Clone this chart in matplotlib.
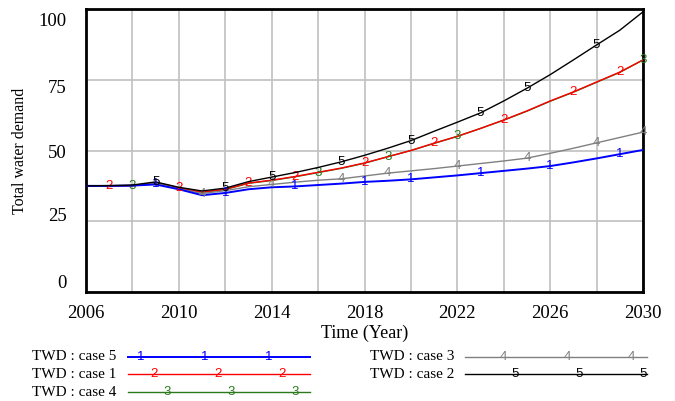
import numpy as np
import matplotlib
matplotlib.use("Agg")
import matplotlib.pyplot as plt
from matplotlib.lines import Line2D
from matplotlib.transforms import ScaledTranslation

# yearly simulation output, total water demand per scenario
years = np.arange(2006, 2031)

case5 = [37.5, 37.5, 37.6, 38.0, 36.3, 34.2, 35.0, 36.3, 37.0, 37.3, 37.8, 38.3, 38.9,
         39.3, 39.8, 40.5, 41.2, 42.0, 42.8, 43.6, 44.5, 45.8, 47.2, 48.7, 50.2]
case1 = [37.5, 37.3, 37.6, 38.7, 36.8, 35.3, 36.3, 38.5, 39.5, 40.8, 42.3, 43.8, 45.6,
         47.8, 50.0, 52.6, 55.0, 57.8, 60.8, 64.0, 67.5, 70.7, 74.2, 77.7, 82.0]
case4 = [37.5, 37.3, 37.5, 38.6, 36.7, 35.2, 36.2, 38.4, 39.4, 40.7, 42.2, 43.7, 45.5,
         47.8, 50.0, 52.5, 55.0, 57.8, 60.7, 63.9, 67.4, 70.6, 74.1, 77.6, 82.0]
case3 = [37.5, 37.5, 37.6, 38.5, 36.5, 34.8, 35.8, 37.2, 38.0, 38.8, 39.5, 40.0, 41.0,
         42.0, 42.8, 43.6, 44.5, 45.4, 46.3, 47.3, 49.0, 50.8, 52.7, 54.6, 56.5]
case2 = [37.5, 37.6, 37.8, 38.9, 37.0, 35.7, 36.7, 39.0, 40.6, 42.2, 44.0, 46.0, 48.3,
         50.8, 53.5, 56.8, 60.0, 63.3, 67.5, 72.0, 76.8, 82.0, 87.3, 92.5, 99.0]

labels = ["TWD : case 5", "TWD : case 1", "TWD : case 4", "TWD : case 3", "TWD : case 2"]
series = [case5, case1, case4, case3, case2]
digits = ["1", "2", "3", "4", "5"]
colors = ["#0000ff", "#ff0000", "#2a7a1c", "#808080", "#000000"]
widths = [1.4, 1.0, 1.0, 1.0, 1.0]
zorders = [5, 4, 3, 4, 5]

# years where each curve carries its number tag
tag_years = [
    [2009, 2012, 2015, 2018, 2020, 2023, 2026, 2029],
    [2007, 2010, 2013, 2015, 2018, 2021, 2024, 2027, 2029],
    [2008, 2016, 2019, 2022, 2030],
    [2011, 2014, 2017, 2019, 2022, 2025, 2028, 2030],
    [2009, 2012, 2014, 2017, 2020, 2023, 2025, 2028],
]

serif = "Liberation Serif"
tag_font = "Liberation Sans"

fig = plt.figure(figsize=(6.75, 4.01), dpi=100)
ax = fig.add_axes([86 / 675, 109 / 401, 557 / 675, 283 / 401])

for vals, dig, col, lw, zo, ty in zip(series, digits, colors, widths, zorders, tag_years):
    ax.plot(years, vals, color=col, lw=lw, zorder=zo)
    ty = np.array(ty, dtype=float)
    for x, y in zip(ty, np.interp(ty, years, vals)):
        ax.text(x, y, dig, color=col, fontsize=9.5, family=tag_font,
                ha="center", va="center", zorder=zo + 1, clip_on=False)

ax.set_xlim(2006, 2030)
ax.set_ylim(0, 100)
ax.set_xticks(np.arange(2006, 2031, 4))
ax.set_xticks(np.arange(2006, 2031, 2), minor=True)
ax.set_yticks([0, 25, 50, 75, 100])
ax.grid(True, which="both", color="#c0c0c0", lw=1.2, zorder=0)
ax.set_axisbelow(True)
ax.tick_params(which="both", length=0)
ax.tick_params(axis="x", pad=9, labelsize=13.5)
ax.tick_params(axis="y", pad=14, labelsize=13.5)
for lab in ax.get_xticklabels() + ax.get_yticklabels():
    lab.set_fontfamily(serif)

# value labels sit spread slightly inside the gridline positions
shift_px = {0: -10, 25: -7, 50: 1, 75: 7, 100: 11}
for val, lab in zip([0, 25, 50, 75, 100], ax.get_yticklabels()):
    lab.set_transform(lab.get_transform() +
                      ScaledTranslation(0, -shift_px[val] / 100, fig.dpi_scale_trans))

for sp in ax.spines.values():
    sp.set_linewidth(2.0)
    sp.set_color("black")

ax.set_xlabel("Time (Year)", fontsize=13, family=serif, labelpad=2)
fig.text(20 / 675, 1 - 151 / 401, "Total water demand", rotation=90, fontsize=11.5,
         family=serif, ha="center", va="center")

# legend block under the plot, two columns: (text x, line start, line end, row y) in px
slots = [(32, 128, 310, 357), (32, 128, 310, 374), (32, 128, 310, 392),
         (370, 465, 647, 357), (370, 465, 647, 374)]
first_tag = [141, 154, 167, 503, 515]
for (tx, lx0, lx1, yy), lab, dig, col, lw, t0 in zip(slots, labels, digits, colors, widths, first_tag):
    yf = 1 - yy / 401
    fig.text(tx / 675, yf, lab, fontsize=11, family=serif, ha="left", va="center")
    fig.add_artist(Line2D([lx0 / 675, lx1 / 675], [yf, yf], color=col, lw=lw,
                          transform=fig.transFigure))
    for k in range(3):
        fig.text((t0 + k * 64) / 675, yf, dig, color=col, fontsize=9.5, family=tag_font,
                 ha="center", va="center")

fig.savefig("out.png", dpi=100)
